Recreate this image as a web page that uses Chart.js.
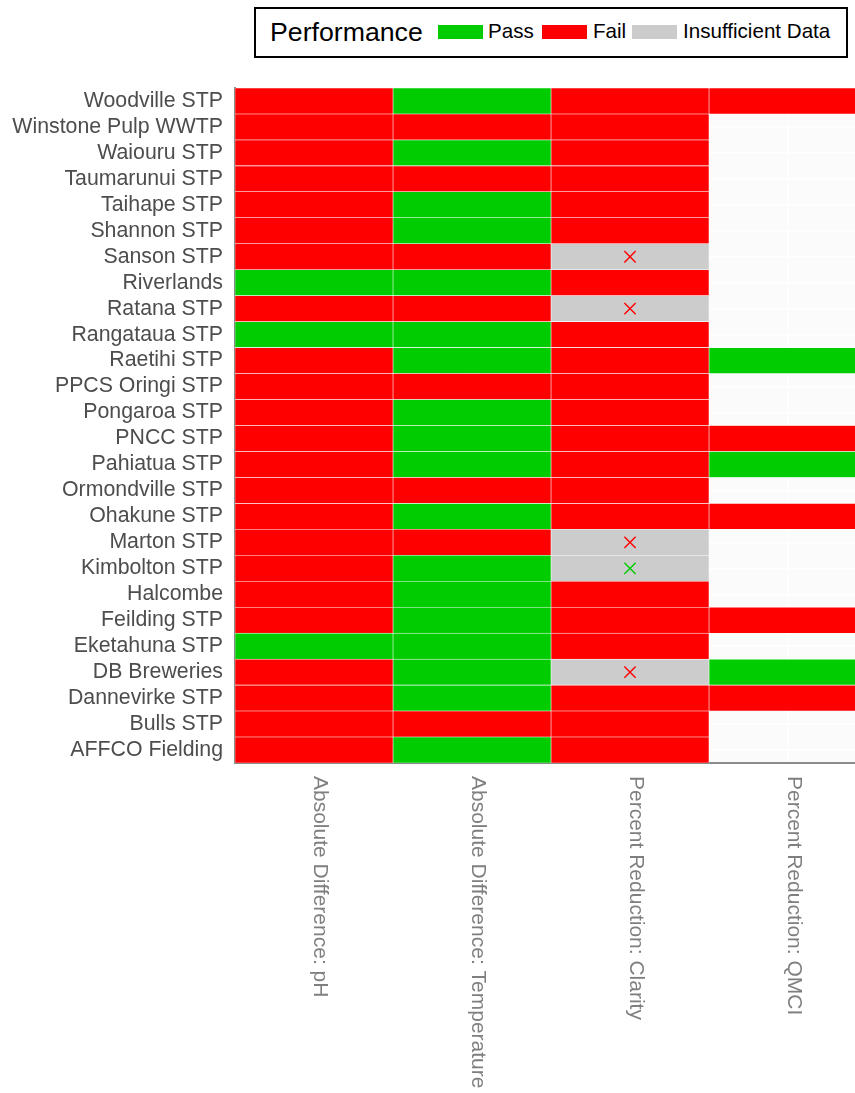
<!DOCTYPE html>
<html>
<head>
<meta charset="utf-8">
<script src="https://cdn.jsdelivr.net/npm/chart.js@4.4.1/dist/chart.umd.min.js"></script>
<style>
  body { margin: 0; background: #fff; }
  #wrap { position: relative; width: 855px; height: 1093px; overflow: hidden; }
  #legend {
    position: absolute; left: 254px; top: 7px; width: 590px; height: 47px;
    border: 2px solid #000; background: #fff;
    font-family: "Liberation Sans", Arial, sans-serif; color: #000;
  }
  #legend span { position: absolute; white-space: nowrap; }
  #legend .ttl { font-size: 26.7px; left: 14px; top: 8px; }
  #legend .lbl { font-size: 20.6px; top: 10px; }
  #legend .sw { width: 45px; height: 14px; top: 16px; }
</style>
</head>
<body>
<div id="wrap">
  <canvas id="heat" width="855" height="1093"></canvas>
  <div id="legend"></div>
</div>
<script>
// sites, top row first
const sites = [
  'Woodville STP', 'Winstone Pulp WWTP', 'Waiouru STP', 'Taumarunui STP',
  'Taihape STP', 'Shannon STP', 'Sanson STP', 'Riverlands', 'Ratana STP',
  'Rangataua STP', 'Raetihi STP', 'PPCS Oringi STP', 'Pongaroa STP',
  'PNCC STP', 'Pahiatua STP', 'Ormondville STP', 'Ohakune STP',
  'Marton STP', 'Kimbolton STP', 'Halcombe', 'Feilding STP',
  'Eketahuna STP', 'DB Breweries', 'Dannevirke STP', 'Bulls STP',
  'AFFCO Fielding'
];

const metrics = [
  'Absolute Difference: pH',
  'Absolute Difference: Temperature',
  'Percent Reduction: Clarity',
  'Percent Reduction: QMCI'
];

// P = Pass, F = Fail, I = Insufficient Data, null = no result
const phResult = ['F','F','F','F','F','F','F','P','F','P','F','F','F','F','F','F','F','F','F','F','F','P','F','F','F','F'];
const tempResult = ['P','F','P','F','P','P','F','P','F','P','P','F','P','P','P','F','P','F','P','P','P','P','P','P','F','P'];
const clarityResult = ['F','F','F','F','F','F','I','F','I','F','F','F','F','F','F','F','F','I','I','F','F','F','I','F','F','F'];
const qmciResult = ['F',null,null,null,null,null,null,null,null,null,'P',null,null,'F','P',null,'F',null,null,null,'F',null,'P','F',null,null];

// cross markers drawn on the insufficient clarity cells
const clarityMarkSites = ['Sanson STP', 'Ratana STP', 'Marton STP', 'Kimbolton STP', 'DB Breweries'];
const clarityMarkResult = ['F', 'F', 'F', 'P', 'F'];

const legendLabels = ['Pass', 'Fail', 'Insufficient Data'];

const COLORS = { P: '#00CC00', F: '#FF0000', I: '#CCCCCC' };
const FONT = '"Liberation Sans", Arial, sans-serif';

// build legend
const legend = document.getElementById('legend');
legend.innerHTML =
  '<span class="ttl">Performance</span>' +
  '<span class="sw" style="left:182px;background:' + COLORS.P + '"></span>' +
  '<span class="lbl" style="left:232px">' + legendLabels[0] + '</span>' +
  '<span class="sw" style="left:286px;background:' + COLORS.F + '"></span>' +
  '<span class="lbl" style="left:337px">' + legendLabels[1] + '</span>' +
  '<span class="sw" style="left:376px;background:' + COLORS.I + '"></span>' +
  '<span class="lbl" style="left:427px">' + legendLabels[2] + '</span>';

const columns = [phResult, tempResult, clarityResult, qmciResult];

const tileSets = columns.map((res, col) => ({
  type: 'bar',
  label: metrics[col],
  data: res.map(r => r ? [col - 0.5, col + 0.5] : null),
  backgroundColor: res.map(r => r ? COLORS[r] : 'transparent'),
  borderColor: 'rgba(255,255,255,0.75)',
  borderWidth: 0.6,
  borderSkipped: false,
  grouped: false,
  barPercentage: 1,
  categoryPercentage: 1,
  order: 2
}));

const markSet = {
  type: 'scatter',
  label: 'marks',
  data: clarityMarkSites.map(s => ({ x: 2, y: s })),
  pointStyle: 'crossRot',
  radius: 8,
  borderWidth: 1.4,
  borderColor: clarityMarkResult.map(r => COLORS[r]),
  backgroundColor: clarityMarkResult.map(r => COLORS[r]),
  showLine: false,
  order: 1
};

// panel background like ggplot's near-white panel
const panelBg = {
  id: 'panelBg',
  beforeDraw(chart) {
    const { ctx, chartArea: a } = chart;
    ctx.save();
    ctx.fillStyle = '#FBFBFB';
    ctx.fillRect(a.left, a.top, a.right - a.left, a.bottom - a.top);
    ctx.restore();
  }
};

// rotated x labels reading top to bottom
const xLabels = {
  id: 'xLabels',
  afterDraw(chart) {
    const { ctx, chartArea: a } = chart;
    const xs = chart.scales.x;
    ctx.save();
    ctx.font = '21px ' + FONT;
    ctx.fillStyle = '#7F7F7F';
    ctx.textAlign = 'left';
    ctx.textBaseline = 'middle';
    metrics.forEach((m, i) => {
      ctx.save();
      ctx.translate(xs.getPixelForValue(i) + 6, a.bottom + 13);
      ctx.rotate(Math.PI / 2);
      ctx.fillText(m, 0, 0);
      ctx.restore();
    });
    ctx.restore();
  }
};

new Chart(document.getElementById('heat'), {
  type: 'bar',
  data: { labels: sites, datasets: [...tileSets, markSet] },
  options: {
    indexAxis: 'y',
    responsive: false,
    animation: false,
    layout: { autoPadding: false, padding: { top: 88, right: 0, bottom: 0, left: 0 } },
    plugins: {
      legend: { display: false },
      tooltip: { enabled: false }
    },
    scales: {
      x: {
        type: 'linear',
        min: -0.5,
        max: 3.424,
        afterBuildTicks: s => { s.ticks = [0, 1, 2, 3].map(v => ({ value: v })); },
        afterFit: s => { s.height = 330; s.paddingLeft = 0; s.paddingRight = 0; },
        ticks: { display: false },
        grid: { color: '#FFFFFF', lineWidth: 1.5, drawTicks: false },
        border: { display: true, color: '#8C8C8C', width: 2 }
      },
      y: {
        type: 'category',
        offset: true,
        afterFit: s => { s.width = 235; },
        ticks: {
          color: '#4D4D4D',
          padding: 12,
          autoSkip: false,
          font: { family: FONT, size: 21.3 }
        },
        grid: { offset: false, color: '#FFFFFF', lineWidth: 1.5, drawTicks: false },
        border: { display: true, color: '#8C8C8C', width: 2 }
      }
    }
  },
  plugins: [panelBg, xLabels]
});
</script>
</body>
</html>
